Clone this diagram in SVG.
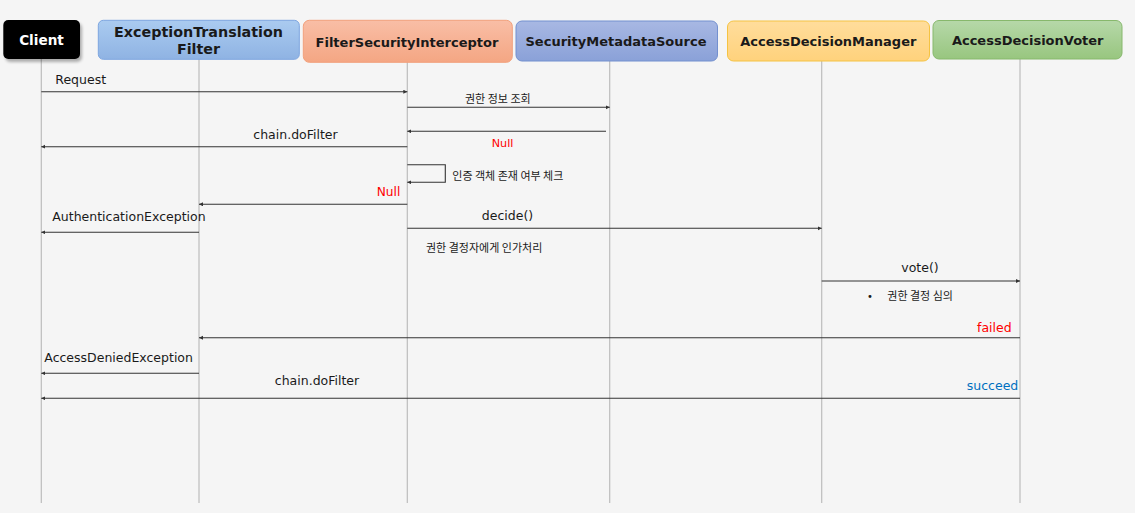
<svg xmlns="http://www.w3.org/2000/svg" width="1135" height="513" viewBox="0 0 1135 513">
<style>
.hdr{font-family:"DejaVu Sans",sans-serif;font-weight:bold;font-size:13px;fill:#1a1a1a;text-anchor:middle}
.lbl{font-family:"DejaVu Sans",sans-serif;font-size:12.5px;fill:#1a1a1a}
.ko{font-family:"Noto Sans CJK KR",sans-serif;font-size:11px;fill:#1a1a1a}
.mid{text-anchor:middle}
.end{text-anchor:end}
.red{fill:#ff0000}
.blue{fill:#0070c0}
.life{stroke:#bdbdbd;stroke-width:1.2;fill:none}
.msg{stroke:#333333;stroke-width:1.1;fill:none;marker-end:url(#ah)}
</style>
<defs>
<marker id="ah" markerUnits="userSpaceOnUse" markerWidth="5" markerHeight="5" refX="4" refY="2" orient="auto">
<path d="M0,0 L4,2 L0,4 z" fill="#333333"/>
</marker>
<filter id="sh" x="-20%" y="-20%" width="150%" height="160%">
<feGaussianBlur in="SourceAlpha" stdDeviation="1.5"/>
<feOffset dx="2" dy="3" result="b"/>
<feComponentTransfer><feFuncA type="linear" slope="0.3"/></feComponentTransfer>
<feMerge><feMergeNode/><feMergeNode in="SourceGraphic"/></feMerge>
</filter>
<linearGradient id="gBlue" x1="0" y1="0" x2="0" y2="1"><stop offset="0" stop-color="#aacbf0"/><stop offset="1" stop-color="#8fb3e3"/></linearGradient>
<linearGradient id="gOrange" x1="0" y1="0" x2="0" y2="1"><stop offset="0" stop-color="#f9bea6"/><stop offset="1" stop-color="#f4a683"/></linearGradient>
<linearGradient id="gPurple" x1="0" y1="0" x2="0" y2="1"><stop offset="0" stop-color="#a8b8e3"/><stop offset="1" stop-color="#8aa1d8"/></linearGradient>
<linearGradient id="gYellow" x1="0" y1="0" x2="0" y2="1"><stop offset="0" stop-color="#ffdd9c"/><stop offset="1" stop-color="#ffd27c"/></linearGradient>
<linearGradient id="gGreen" x1="0" y1="0" x2="0" y2="1"><stop offset="0" stop-color="#b6d8a9"/><stop offset="1" stop-color="#98c67f"/></linearGradient>
</defs>
<rect x="0" y="0" width="1135" height="513" fill="#f5f5f5"/>

<g id="lifelines">
<path class="life" d="M41.3,59 V503"/>
<path class="life" d="M199,59 V503"/>
<path class="life" d="M407.3,62 V503"/>
<path class="life" d="M609.7,61 V503"/>
<path class="life" d="M821.7,61 V503"/>
<path class="life" d="M1020,59 V503"/>
</g>

<g id="node-client">
<rect x="3.3" y="20" width="76.7" height="39" rx="5" fill="#000000" filter="url(#sh)"/>
<text class="hdr" x="41.5" y="44.7" style="fill:#ffffff;font-size:13.6px">Client</text>
</g>
<g id="node-etf">
<rect x="98.3" y="20.3" width="201" height="39" rx="5" fill="url(#gBlue)" stroke="#7ea6e0" stroke-width="1"/>
<text class="hdr" x="198.5" y="37" style="font-size:14.3px">ExceptionTranslation</text>
<text class="hdr" x="198.5" y="53.5" style="font-size:14.3px">Filter</text>
</g>
<g id="node-fsi">
<rect x="303.3" y="20.3" width="209" height="42" rx="6" fill="url(#gOrange)" stroke="#f2a17c" stroke-width="1"/>
<text class="hdr" x="407" y="46.7">FilterSecurityInterceptor</text>
</g>
<g id="node-sms">
<rect x="516" y="21" width="201.5" height="40" rx="6" fill="url(#gPurple)" stroke="#7390cf" stroke-width="1"/>
<text class="hdr" x="616" y="46">SecurityMetadataSource</text>
</g>
<g id="node-adm">
<rect x="727.5" y="21" width="202" height="40" rx="6" fill="url(#gYellow)" stroke="#f5c342" stroke-width="1"/>
<text class="hdr" x="828.3" y="46">AccessDecisionManager</text>
</g>
<g id="node-adv">
<rect x="933" y="20.5" width="189" height="38.5" rx="6" fill="url(#gGreen)" stroke="#87b86c" stroke-width="1"/>
<text class="hdr" x="1027.7" y="44.5">AccessDecisionVoter</text>
</g>

<g id="connectors">
<path class="msg" d="M41.3,91.7 H407.3"/>
<path class="msg" d="M407.3,107.3 H609.7"/>
<path class="msg" d="M606,131.3 H407.3"/>
<path class="msg" d="M407.3,146.7 H41.3"/>
<path class="msg" d="M407.3,164.7 H445.3 V182.3 H407.3"/>
<path class="msg" d="M407.3,204.3 H199"/>
<path class="msg" d="M199,232.3 H41.3"/>
<path class="msg" d="M407.3,228.3 H821.7"/>
<path class="msg" d="M821.7,281 H1020"/>
<path class="msg" d="M1020,337.7 H199"/>
<path class="msg" d="M199,373.3 H41.3"/>
<path class="msg" d="M1020,398.3 H41.3"/>
</g>

<g id="labels">
<text class="lbl" x="55.3" y="84">Request</text>
<text class="ko" x="465" y="102.7">권한 정보 조회</text>
<text class="lbl red" x="491.7" y="147.3" style="font-size:11.2px">Null</text>
<text class="lbl mid" x="295.5" y="139">chain.doFilter</text>
<text class="ko" x="452.3" y="180">인증 객체 존재 여부 체크</text>
<text class="lbl red" x="376.7" y="196" style="font-size:12.2px">Null</text>
<text class="lbl" x="52.3" y="220.7">AuthenticationException</text>
<text class="lbl mid" x="507.5" y="220">decide()</text>
<text class="ko" x="426" y="251.7">권한 결정자에게 인가처리</text>
<text class="lbl mid" x="920" y="272.3">vote()</text>
<text class="lbl" x="867" y="300" style="font-size:10px">•</text>
<text class="ko" x="887.3" y="300">권한 결정 심의</text>
<text class="lbl end red" x="1011.7" y="331.7">failed</text>
<text class="lbl" x="44.3" y="361.7">AccessDeniedException</text>
<text class="lbl mid" x="317" y="384.7">chain.doFilter</text>
<text class="lbl end blue" x="1018.3" y="390">succeed</text>
</g>
</svg>
